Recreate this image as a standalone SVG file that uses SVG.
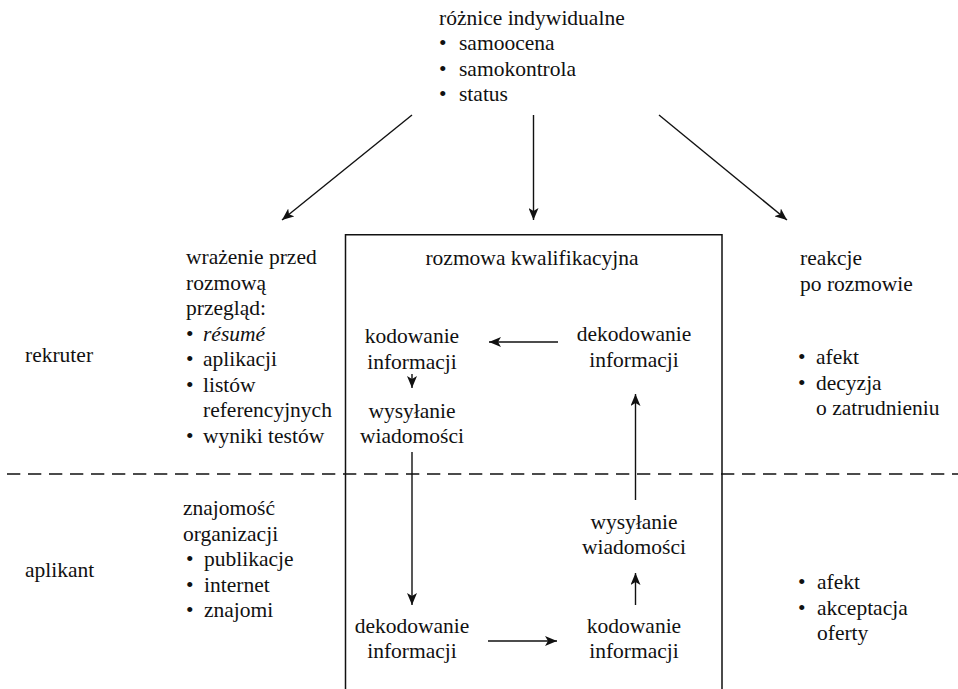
<svg xmlns="http://www.w3.org/2000/svg" width="958" height="689" viewBox="0 0 958 689">
  <defs>
    <style>
      text { font-family: "Liberation Serif", "Times New Roman", serif; font-size: 21.5px; fill: #111; }
      .mid { text-anchor: middle; }
      .it { font-style: italic; }
      .conn { stroke: #111; stroke-width: 1.4; fill: none; marker-end: url(#head); }
      .frame { stroke: #111; stroke-width: 1.5; fill: none; }
      .divider { stroke: #111; stroke-width: 1.3; stroke-dasharray: 13.3 7.7; fill: none; }
    </style>
    <marker id="head" viewBox="0 0 12 10" refX="12" refY="5" markerWidth="12" markerHeight="10" markerUnits="userSpaceOnUse" orient="auto">
      <path d="M0,0 L12,5 L0,10 L3,5 Z" fill="#111"/>
    </marker>
  </defs>

  <rect width="958" height="689" fill="#fff"/>

  <!-- role divider and interview frame -->
  <line class="divider" x1="7" y1="474" x2="958" y2="474"/>
  <path class="frame" d="M345.5,689 V234.7 H722 V689"/>

  <!-- individual differences -->
  <g id="roznice">
    <text x="439" y="25">różnice indywidualne</text>
    <text x="439" y="50">•</text><text x="459" y="50">samoocena</text>
    <text x="439" y="76">•</text><text x="459" y="76">samokontrola</text>
    <text x="439" y="101">•</text><text x="459" y="101">status</text>
  </g>

  <!-- row labels -->
  <g id="rekruter"><text x="25" y="362">rekruter</text></g>
  <g id="aplikant"><text x="25" y="577">aplikant</text></g>

  <!-- recruiter: pre-interview impression -->
  <g id="wrazenie">
    <text x="186" y="264">wrażenie przed</text>
    <text x="186" y="289.5">rozmową</text>
    <text x="186" y="315">przegląd:</text>
    <text x="186" y="340.5">•</text><text x="203" y="340.5" class="it">résumé</text>
    <text x="186" y="366">•</text><text x="203" y="366">aplikacji</text>
    <text x="186" y="391.5">•</text><text x="203" y="391.5">listów</text>
    <text x="203" y="417">referencyjnych</text>
    <text x="186" y="442.5">•</text><text x="203" y="442.5">wyniki testów</text>
  </g>

  <!-- applicant: knowledge of the organisation -->
  <g id="znajomosc">
    <text x="183" y="515">znajomość</text>
    <text x="183" y="540.5">organizacji</text>
    <text x="186" y="566">•</text><text x="204" y="566">publikacje</text>
    <text x="186" y="591.5">•</text><text x="204" y="591.5">internet</text>
    <text x="186" y="617">•</text><text x="204" y="617">znajomi</text>
  </g>

  <!-- interview box contents -->
  <g id="rozmowa"><text x="532" y="265" class="mid">rozmowa kwalifikacyjna</text></g>
  <g id="rek-kodowanie">
    <text x="412" y="343" class="mid">kodowanie</text>
    <text x="412" y="368.5" class="mid">informacji</text>
  </g>
  <g id="rek-wysylanie">
    <text x="412" y="417.5" class="mid">wysyłanie</text>
    <text x="412" y="443" class="mid">wiadomości</text>
  </g>
  <g id="rek-dekodowanie">
    <text x="634" y="341" class="mid">dekodowanie</text>
    <text x="634" y="366.5" class="mid">informacji</text>
  </g>
  <g id="apl-wysylanie">
    <text x="634" y="528.5" class="mid">wysyłanie</text>
    <text x="634" y="554" class="mid">wiadomości</text>
  </g>
  <g id="apl-dekodowanie">
    <text x="412" y="632.5" class="mid">dekodowanie</text>
    <text x="412" y="658" class="mid">informacji</text>
  </g>
  <g id="apl-kodowanie">
    <text x="634" y="632.5" class="mid">kodowanie</text>
    <text x="634" y="658" class="mid">informacji</text>
  </g>

  <!-- post-interview reactions -->
  <g id="reakcje">
    <text x="800" y="265">reakcje</text>
    <text x="800" y="290.5">po rozmowie</text>
    <text x="798" y="364">•</text><text x="816" y="364">afekt</text>
    <text x="798" y="389.5">•</text><text x="816" y="389.5">decyzja</text>
    <text x="816" y="415">o zatrudnieniu</text>
  </g>
  <g id="reakcje-apl">
    <text x="798" y="589">•</text><text x="817" y="589">afekt</text>
    <text x="798" y="614.5">•</text><text x="817" y="614.5">akceptacja</text>
    <text x="817" y="640">oferty</text>
  </g>

  <!-- connectors -->
  <g id="connectors">
    <line class="conn" x1="412" y1="115" x2="282" y2="220"/>
    <line class="conn" x1="533.5" y1="115" x2="533.5" y2="220"/>
    <line class="conn" x1="659" y1="115" x2="787" y2="220"/>
    <line class="conn" x1="558" y1="342" x2="489" y2="342"/>
    <line class="conn" x1="412" y1="374" x2="412" y2="388"/>
    <line class="conn" x1="412" y1="452" x2="412" y2="605"/>
    <line class="conn" x1="488" y1="641" x2="557" y2="641"/>
    <line class="conn" x1="635.5" y1="605" x2="635.5" y2="573"/>
    <line class="conn" x1="635.5" y1="500" x2="635.5" y2="394"/>
  </g>
</svg>
